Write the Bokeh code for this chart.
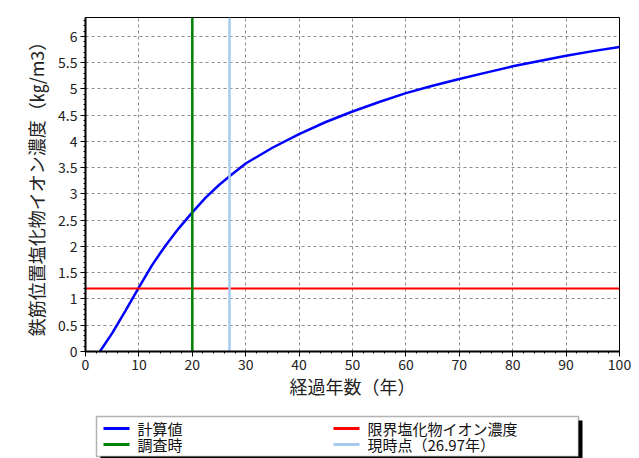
from bokeh.plotting import figure
from bokeh.models import Range1d, FixedTicker, BoxAnnotation
from bokeh.core.properties import value
from bokeh.layouts import column
from bokeh.embed import file_html
from bokeh.resources import INLINE

# ---- data ----
years = [2.7, 5, 7.5, 10, 12.5, 15, 17.5, 20, 22.5, 25, 27.5, 30, 35, 40, 45,
         50, 55, 60, 65, 70, 75, 80, 85, 90, 95, 100]
values = [0, 0.35, 0.78, 1.22, 1.65, 2.02, 2.35, 2.65, 2.93, 3.17, 3.38, 3.58,
          3.88, 4.14, 4.37, 4.57, 4.75, 4.92, 5.06, 5.19, 5.31, 5.43, 5.53,
          5.63, 5.72, 5.8]
limit_value = 1.2
survey_year = 20
current_year = 26.97
x_min, x_max = 0, 100
y_min, y_max = 0, 6.36
x_ticks = [0, 10, 20, 30, 40, 50, 60, 70, 80, 90, 100]
y_ticks = [0, 0.5, 1, 1.5, 2, 2.5, 3, 3.5, 4, 4.5, 5, 5.5, 6]
y_tick_labels = ["0", "0.5", "1", "1.5", "2", "2.5", "3", "3.5", "4", "4.5",
                 "5", "5.5", "6"]
x_label = "経過年数（年）"
y_label = "鉄筋位置塩化物イオン濃度（㎏/m3）"
names = ["計算値", "調査時", "限界塩化物イオン濃度", "現時点（26.97年）"]
colors = ["#0000ff", "#008000", "#ff0000", "#a6caf0"]

FONT = "Noto Sans CJK JP"
W = 634
BL, BR = 85, 15  # left / right borders of the plot frame

p = figure(width=W, height=404, output_backend="svg", toolbar_location=None,
           x_range=Range1d(x_min, x_max), y_range=Range1d(y_min, y_max),
           min_border_left=BL, min_border_top=17, min_border_right=BR,
           min_border_bottom=53)
p.background_fill_color = "white"
p.border_fill_color = "white"
p.outline_line_color = "black"
p.outline_line_width = 1

# grid
for g in (p.xgrid, p.ygrid):
    g.grid_line_color = "#8c8c8c"
    g.grid_line_dash = "3 3"
    g.grid_line_width = 1
p.xgrid.ticker = FixedTicker(ticks=x_ticks)
p.ygrid.ticker = FixedTicker(ticks=y_ticks)

# axes
p.xaxis.ticker = FixedTicker(ticks=x_ticks, minor_ticks=list(range(0, 101, 2)))
p.yaxis.ticker = FixedTicker(ticks=y_ticks, minor_ticks=[y / 10 for y in range(0, 64)])
p.yaxis.major_label_overrides = {t: l for t, l in zip(y_ticks, y_tick_labels)}
for ax in (p.xaxis, p.yaxis):
    ax.axis_line_color = "black"
    ax.axis_line_width = 2
    ax.major_tick_line_color = "black"
    ax.minor_tick_line_color = "black"
    ax.major_tick_out = 5
    ax.major_tick_in = 0
    ax.minor_tick_out = 2
    ax.minor_tick_in = 0
    ax.major_label_text_font = FONT
    ax.major_label_text_font_size = "14px"
    ax.major_label_text_color = "#222222"
    ax.axis_label_text_font = FONT
    ax.axis_label_text_font_size = "18px"
    ax.axis_label_text_font_style = "normal"
    ax.axis_label_text_color = "#222222"
p.xaxis.axis_label = x_label
p.yaxis.axis_label = y_label
p.xaxis.major_label_standoff = 2
p.xaxis.axis_label_standoff = 0
p.yaxis.major_label_standoff = 3
p.yaxis.axis_label_standoff = 6

# glyphs
p.line(years, values, line_color=colors[0], line_width=2.5)
p.line([x_min, x_max], [limit_value, limit_value], line_color=colors[2], line_width=2)
p.line([survey_year, survey_year], [y_min, y_max], line_color=colors[1], line_width=2.5)
p.line([current_year, current_year], [y_min, y_max], line_color=colors[3], line_width=2.5)

# ---- legend strip (own figure; its frame is aligned with the plot frame,
#      so the x range maps straight to page pixels) ----
LH = 54
p2 = figure(width=W, height=LH, output_backend="svg", toolbar_location=None,
            x_range=Range1d(BL, W - BR), y_range=Range1d(0, LH),
            x_axis_location=None, y_axis_location=None,
            min_border=0, min_border_left=BL, min_border_right=BR,
            min_border_top=0, min_border_bottom=0)
p2.outline_line_color = None
p2.xgrid.visible = False
p2.ygrid.visible = False
p2.background_fill_color = "white"
p2.border_fill_color = "white"

# box layout (style, in pixels)
box_l, box_r, box_b, box_t = 96, 578, 2, 42
col_x = [103, 103, 333, 333]
row_y = [30, 14, 30, 14]
sample_len = 26
text_gap = 8

p2.add_layout(BoxAnnotation(left=box_l + 4, right=box_r + 4, bottom=box_b - 4, top=box_t - 4,
                            fill_color="black", fill_alpha=1, line_color=None,
                            level="underlay"))
p2.add_layout(BoxAnnotation(left=box_l, right=box_r, bottom=box_b, top=box_t,
                            fill_color="white", fill_alpha=1, line_color="black",
                            line_width=1.5, level="underlay"))
p2.segment(x0=col_x, y0=row_y, x1=[x + sample_len for x in col_x], y1=row_y,
           line_color=colors, line_width=3)
p2.text(x=[x + sample_len + text_gap for x in col_x], y=row_y, text=names,
        text_font=value(FONT), text_font_size="15px", text_color="#111111",
        text_baseline="middle", text_align="left")

layout = column(p, p2, spacing=0)
open("out.html", "w").write(file_html(layout, INLINE))
